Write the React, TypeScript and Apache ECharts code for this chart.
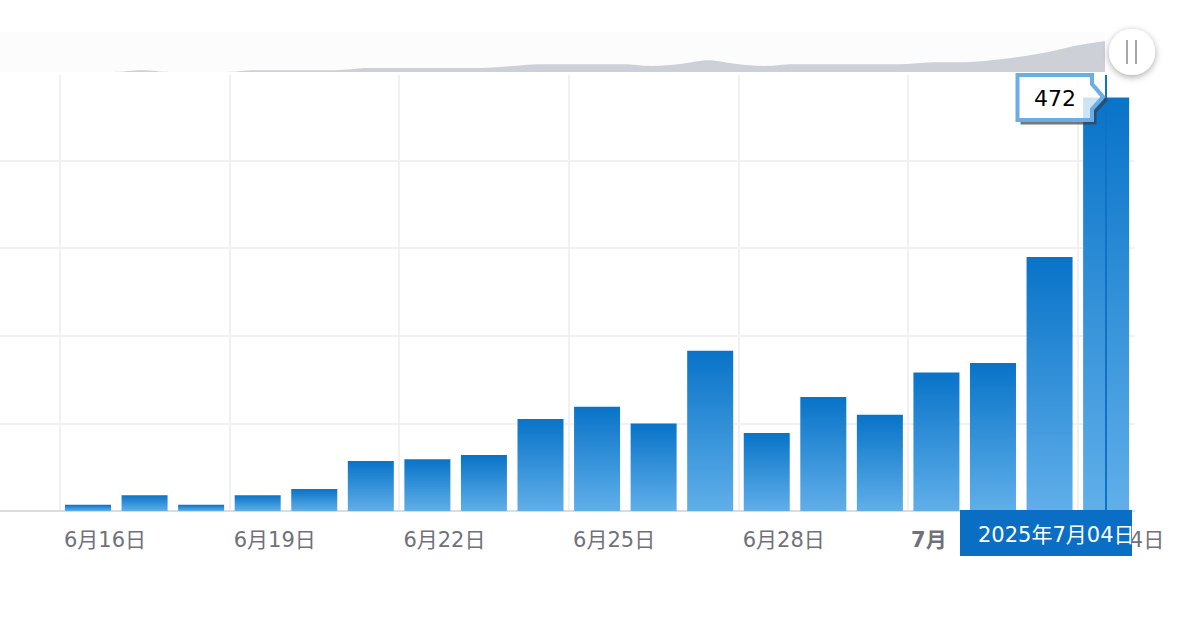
import React, { useEffect, useRef } from "react";
import * as echarts from "echarts";

const FONT = '"DejaVu Sans", "Noto Sans CJK JP", sans-serif';

const categories = ["6月14日", "6月15日", "6月16日", "6月17日", "6月18日", "6月19日", "6月20日", "6月21日", "6月22日", "6月23日", "6月24日", "6月25日", "6月26日", "6月27日", "6月28日", "6月29日", "6月30日", "7月", "7月02日", "7月03日", "7月04日"];
const values: (number | null)[] = [null, null, 7, 18, 7, 18, 25, 57, 59, 64, 105, 119, 100, 183, 89, 130, 110, 158, 169, 290, 472];
const navValues = [0, 0, 0, 0, 0, 21, 0, 0, 0, 21, 21, 21, 25, 50, 50, 50, 50, 50, 71, 96, 96, 96, 96, 75, 100, 146, 100, 75, 96, 96, 96, 96, 100, 121, 121, 146, 190, 250, 330, 388];
const navIndex = navValues.map((_, i) => i);
const tooltipValue = "472";
const tooltipDate = "2025年7月04日";

// The plot starts left of the visible page, so the chart div sits 60px to the left.
const SHIFT = 60;

export default function App() {
  const ref = useRef<HTMLDivElement>(null);
  useEffect(() => {
    document.body.style.margin = "0";
    const chart = echarts.init(ref.current!, undefined, { renderer: "svg" });
    const every3 = (i: number) => i >= 2 && (i - 2) % 3 === 0;
    const callout = [[1017.5, 75], [1092, 75], [1092, 84], [1103, 97], [1092, 109], [1092, 120], [1017.5, 120]];
    chart.setOption({
      animation: false,
      grid: [
        { left: SHIFT - 53.4, width: 1187.8, top: 73, height: 438, show: false },
        { left: SHIFT, width: 1105, top: 32, height: 40, show: true, backgroundColor: "#fcfcfc", borderWidth: 0 },
      ],
      xAxis: [
        {
          type: "category",
          gridIndex: 0,
          data: categories.map((c) =>
            c === "7月" ? { value: c, textStyle: { fontWeight: "bold", padding: [0, 0, 0, -15] } } : c
          ),
          boundaryGap: true,
          axisLine: { show: true, lineStyle: { color: "#dcdcdc", width: 2 } },
          axisTick: { show: false },
          splitLine: { show: true, interval: every3, showMaxLine: false, lineStyle: { color: "#f1f1f3", width: 2 } },
          axisLabel: {
            interval: every3,
            align: "left",
            padding: [0, 0, 0, -24],
            margin: 18,
            color: "#70717b",
            fontSize: 21,
            fontFamily: FONT,
            hideOverlap: false,
          },
        },
        { type: "category", gridIndex: 1, data: navIndex, boundaryGap: false, show: false },
      ],
      yAxis: [
        {
          type: "value",
          gridIndex: 0,
          min: 0,
          max: 500,
          interval: 100,
          axisLine: { show: false },
          axisTick: { show: false },
          axisLabel: { show: false },
          splitLine: { show: true, lineStyle: { color: "#f1f1f3", width: 2 } },
        },
        { type: "value", gridIndex: 1, min: 0, max: 500, show: false, splitLine: { show: false } },
      ],
      series: [
        {
          type: "bar",
          xAxisIndex: 0,
          yAxisIndex: 0,
          data: values,
          barWidth: 46,
          itemStyle: {
            color: new echarts.graphic.LinearGradient(0, 0, 0, 1, [
              { offset: 0, color: "#0873c8" },
              { offset: 1, color: "#60afe9" },
            ]),
          },
          markLine: {
            silent: true,
            symbol: "none",
            label: { show: false },
            lineStyle: { color: "#0f72c4", width: 2, type: "solid" },
            data: [{ xAxis: "7月04日" }],
          },
        },
        {
          type: "line",
          xAxisIndex: 1,
          yAxisIndex: 1,
          data: navValues,
          smooth: 0.3,
          symbol: "none",
          lineStyle: { width: 0 },
          areaStyle: { color: "#cdd0d7", opacity: 1 },
        },
      ],
      graphic: [
        {
          type: "group",
          x: SHIFT,
          y: 0,
          z: 100,
          children: [
            { type: "rect", z: 99, shape: { x: -SHIFT, y: 72, width: 1192 + SHIFT, height: 3 }, style: { fill: "#ffffff" } },
            { type: "rect", z: 100, shape: { x: 960, y: 510, width: 172, height: 46 }, style: { fill: "#0a6fc4" } },
            { type: "text", z: 101, x: 978, y: 535, style: { text: tooltipDate, fill: "#ffffff", font: `21px ${FONT}`, textVerticalAlign: "middle" } },
            { type: "polyline", z: 102, x: 3, y: 3, shape: { points: callout.slice(2, 7) }, style: { fill: "none", stroke: "rgba(60,60,70,0.7)", lineWidth: 3 } },
            { type: "polygon", z: 103, shape: { points: callout }, style: { fill: "rgba(255,255,255,0.8)", stroke: "#6aaee3", lineWidth: 4 } },
            { type: "text", z: 104, x: 1055, y: 98, style: { text: tooltipValue, fill: "#000000", font: `22px ${FONT}`, textAlign: "center", textVerticalAlign: "middle" } },
            { type: "circle", z: 105, shape: { cx: 1132, cy: 52, r: 23 }, style: { fill: "#ffffff", shadowBlur: 7, shadowColor: "rgba(0,0,0,0.35)", shadowOffsetY: 2 } },
            { type: "line", z: 106, shape: { x1: 1127, y1: 40, x2: 1127, y2: 64 }, style: { stroke: "#a8a8ac", lineWidth: 2 } },
            { type: "line", z: 106, shape: { x1: 1136, y1: 40, x2: 1136, y2: 64 }, style: { stroke: "#a8a8ac", lineWidth: 2 } },
          ],
        },
      ],
    });
    return () => chart.dispose();
  }, []);
  return (
    <div style={{ position: "relative", width: 1192, height: 630, overflow: "hidden" }}>
      <div ref={ref} style={{ position: "absolute", left: -SHIFT, top: 0, width: 1192 + SHIFT, height: 630 }} />
    </div>
  );
}
